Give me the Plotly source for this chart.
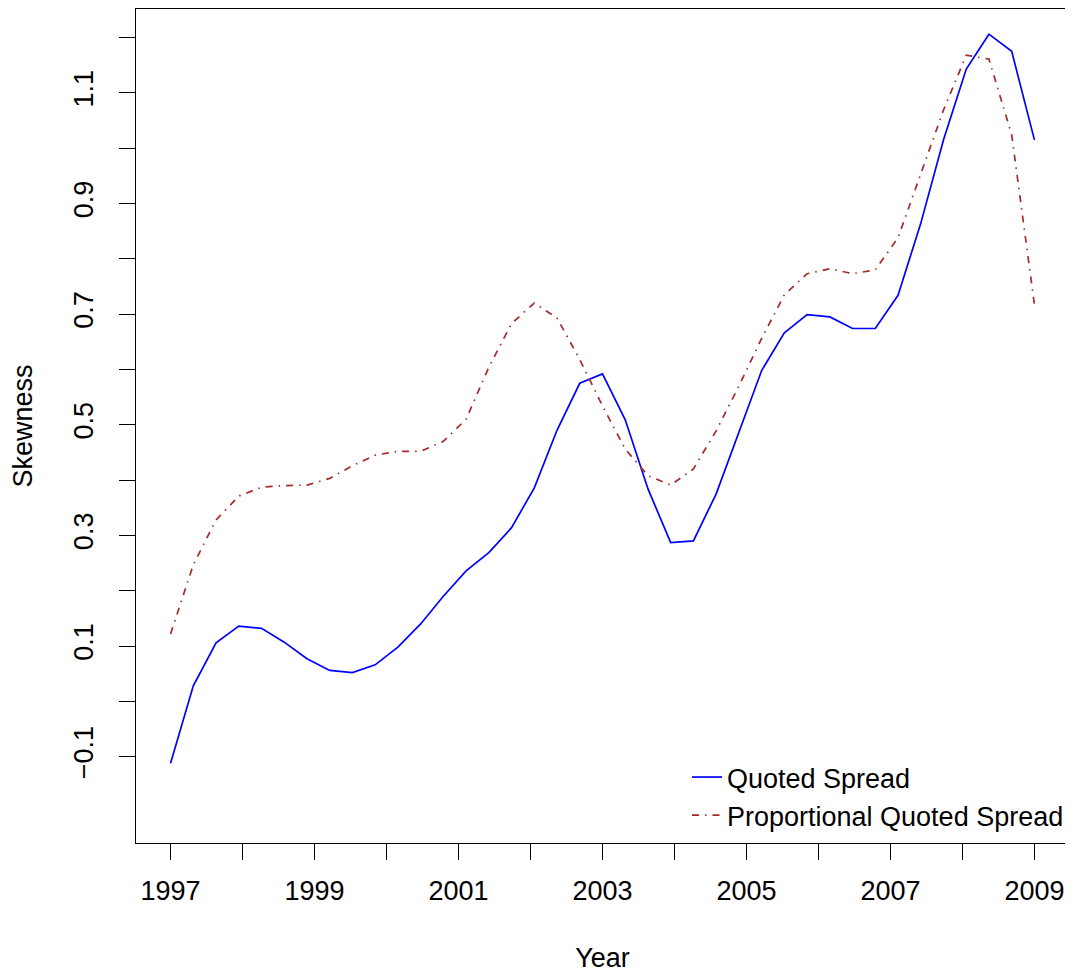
import plotly.graph_objects as go

years = [1997.000, 1997.316, 1997.632, 1997.947, 1998.263, 1998.579, 1998.895,
         1999.211, 1999.526, 1999.842, 2000.158, 2000.474, 2000.789, 2001.105,
         2001.421, 2001.737, 2002.053, 2002.368, 2002.684, 2003.000, 2003.316,
         2003.632, 2003.947, 2004.263, 2004.579, 2004.895, 2005.211, 2005.526,
         2005.842, 2006.158, 2006.474, 2006.789, 2007.105, 2007.421, 2007.737,
         2008.053, 2008.368, 2008.684, 2009.000]

quoted_spread = [-0.112, 0.028, 0.106, 0.136, 0.132, 0.107, 0.077, 0.056, 0.052,
                 0.066, 0.098, 0.140, 0.190, 0.236, 0.269, 0.314, 0.386, 0.490,
                 0.575, 0.592, 0.509, 0.384, 0.287, 0.290, 0.375, 0.486, 0.598,
                 0.666, 0.699, 0.695, 0.674, 0.674, 0.734, 0.864, 1.015, 1.143,
                 1.206, 1.175, 1.015]

prop_quoted_spread = [0.122, 0.247, 0.328, 0.371, 0.387, 0.390, 0.391, 0.403, 0.426,
                      0.445, 0.452, 0.452, 0.470, 0.510, 0.604, 0.683, 0.720, 0.693,
                      0.618, 0.534, 0.456, 0.408, 0.391, 0.420, 0.489, 0.570, 0.656,
                      0.735, 0.773, 0.782, 0.773, 0.780, 0.838, 0.952, 1.069, 1.168,
                      1.161, 1.024, 0.717]

series_names = ["Quoted Spread", "Proportional Quoted Spread"]

x_tickvals = list(range(1997, 2010))
x_ticktext = ["1997", "", "1999", "", "2001", "", "2003", "", "2005", "", "2007", "", "2009"]

y_tickvals = [-0.1, 0.0, 0.1, 0.2, 0.3, 0.4, 0.5, 0.6, 0.7, 0.8, 0.9, 1.0, 1.1, 1.2]
y_ticktext = ["\u22120.1", "", "0.1", "", "0.3", "", "0.5", "", "0.7", "", "0.9", "", "1.1", ""]

FONT = "Liberation Sans, Arial, Helvetica, sans-serif"
FS = 27

# The page body adds an 8px margin, so the figure is sized to fit the window.
W, H = 1065, 965
ML, MR, MT, MB = 128, 4, 1, 130
PW, PH = W - ML - MR, H - MT - MB

fig = go.Figure()
fig.add_trace(go.Scatter(
    x=years, y=quoted_spread, mode="lines", name=series_names[0],
    line=dict(color="#0000FF", width=1.7)))
fig.add_trace(go.Scatter(
    x=years, y=prop_quoted_spread, mode="lines", name=series_names[1],
    line=dict(color="#A52A2A", width=1.7, dash="7px,6px,1.5px,6px")))

fig.update_layout(
    width=W, height=H,
    paper_bgcolor="white", plot_bgcolor="white",
    margin=dict(l=ML, r=MR, t=MT, b=MB, autoexpand=False),
    font=dict(family=FONT, size=FS, color="black"),
    showlegend=True,
    legend=dict(
        x=(679 - ML) / PW, y=(PH - 744) / PH, xanchor="left", yanchor="top",
        bgcolor="rgba(0,0,0,0)", borderwidth=0,
        font=dict(family=FONT, size=FS, color="black"),
        tracegroupgap=0,
    ),
    xaxis=dict(
        range=[1996.52, 2009.48], tickmode="array",
        tickvals=x_tickvals, ticktext=x_ticktext,
        ticks="outside", ticklen=16, tickwidth=1.3, tickcolor="black",
        showline=True, linecolor="black", linewidth=1.3, mirror=True,
        showgrid=False, zeroline=False, automargin=False,
        ticklabelstandoff=7,
        title=dict(text="Year", standoff=47, font=dict(family=FONT, size=FS)),
        tickfont=dict(family=FONT, size=FS),
    ),
    yaxis=dict(
        range=[-0.256, 1.2515], tickmode="array",
        tickvals=y_tickvals, ticktext=y_ticktext,
        ticks="outside", ticklen=16, tickwidth=1.3, tickcolor="black",
        showline=True, linecolor="black", linewidth=1.3, mirror=True,
        showgrid=False, zeroline=False, automargin=False,
        tickangle=-90, ticklabelstandoff=15,
        title=dict(text="Skewness", standoff=31, font=dict(family=FONT, size=FS)),
        tickfont=dict(family=FONT, size=FS),
    ),
)

fig.write_html("out.html")
